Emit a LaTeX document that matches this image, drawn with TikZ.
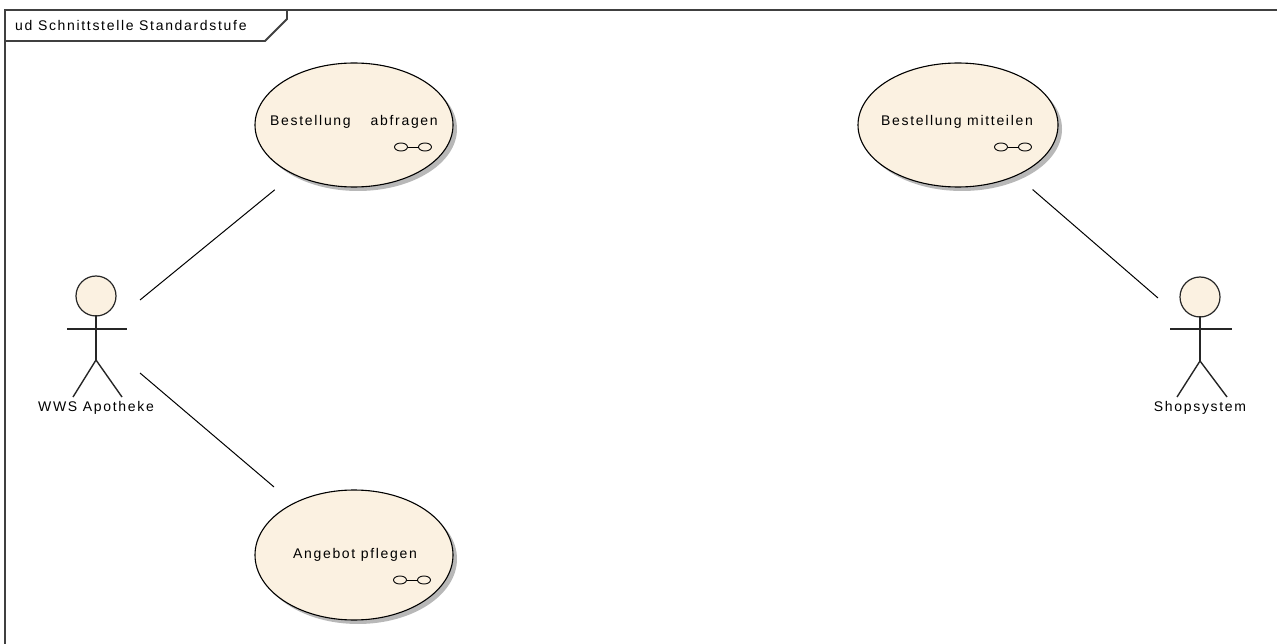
\documentclass[tikz,border=0pt]{standalone}
\usepackage{fontspec}
\usetikzlibrary{shapes.geometric}
\newfontfamily\umlfont[LetterSpace=12]{Liberation Sans}
\definecolor{ucfill}{HTML}{FBF1E1}
\definecolor{shadowgray}{HTML}{B8B8B8}
\begin{document}
\begin{tikzpicture}[x=1pt,y=-1pt,
  every node/.style={font=\umlfont\fontsize{14}{16}\selectfont, inner sep=0pt},
  ucshape/.style={draw=black, line width=1.1pt, fill=ucfill, shape=ellipse},
  assoc/.style={draw=black, line width=1pt},
  stick/.style={draw=black!85, line width=1.4pt},
  framel/.style={draw=black!75, line width=1.8pt},
  headshape/.style={circle, draw=black!85, line width=1.2pt, fill=ucfill, minimum size=40pt},
  icon/.style={draw=black, line width=0.9pt},
  lbl/.style={anchor=center}
]
\useasboundingbox (0,0) rectangle (1277,644);

% frame
\draw[framel] (1277,10) -- (5,10) -- (5,644);
\draw[framel] (5,41) -- (265,41) -- (287,19) -- (287,10);
\node[anchor=west] (title) at (15,26) {ud Schnittstelle Standardstufe};

% use cases: shadows
\fill[shadowgray] (358,129) ellipse [x radius=99, y radius=62];
\fill[shadowgray] (962,129) ellipse [x radius=100, y radius=62];
\fill[shadowgray] (358,559) ellipse [x radius=99, y radius=65];

% use case ellipses
\node[ucshape, minimum width=198pt, minimum height=124pt] (uc1) at (354,125) {};
\node[ucshape, minimum width=200pt, minimum height=124pt] (uc2) at (958,125) {};
\node[ucshape, minimum width=198pt, minimum height=130pt] (uc3) at (354,555) {};

\node[lbl] (t1) at (354,122) {Bestellung\hspace{20pt}abfragen};
\node[lbl] (t2) at (957,122) {Bestellung mitteilen};
\node[lbl] (t3) at (355,555) {Angebot pflegen};

% link icons
\foreach \cx/\cy in {413/147, 1013/147, 412/580}{
  \draw[icon] (\cx-12,\cy) ellipse [x radius=6.5, y radius=4];
  \draw[icon] (\cx+12,\cy) ellipse [x radius=6.5, y radius=4];
  \draw[icon] (\cx-5.5,\cy) -- (\cx+5.5,\cy);
}

% actor WWS Apotheke
\node[headshape] (h1) at (96,296) {};
\draw[stick] (67,329) -- (127,329);
\draw[stick] (h1.north) ++(0,40) -- (96,360) coordinate (hip1);
\draw[stick] (73,397) -- (hip1) -- (122,397);
\node[lbl] (a1) at (96,408) {WWS Apotheke};

% actor Shopsystem
\node[headshape] (h2) at (1200,297) {};
\draw[stick] (1170,329) -- (1232,329);
\draw[stick] (h2.north) ++(0,40) -- (1200,361) coordinate (hip2);
\draw[stick] (1177,397) -- (hip2) -- (1227,397);
\node[lbl] (a2) at (1200,408) {Shopsystem};

% associations
\coordinate (p1) at (140,300);
\coordinate (p2) at (140,373);
\coordinate (p3) at (1158,298);
\draw[assoc, shorten >=24pt] (p1) -- (uc1);
\draw[assoc, shorten >=25pt] (p2) -- (uc3);
\draw[assoc, shorten >=21pt] (p3) -- (uc2);
\end{tikzpicture}
\end{document}
